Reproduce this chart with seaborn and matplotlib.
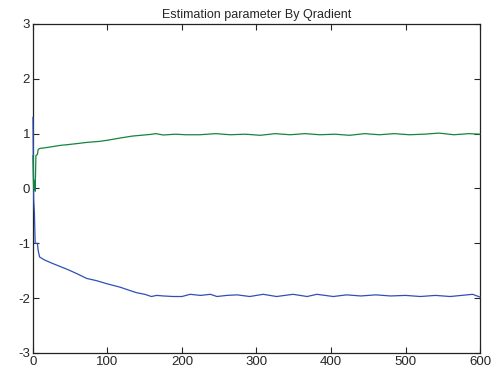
import pandas as pd
import matplotlib
matplotlib.use("Agg")
import matplotlib.pyplot as plt
import seaborn as sns

# Values
blue_t = [0, 1, 2, 3, 6, 7, 9, 15, 25, 36, 47, 60, 72, 85, 100, 117, 130, 139,
          150, 159, 166, 175, 188, 200, 211, 225, 238, 247, 260, 274, 291, 309,
          327, 349, 368, 381, 403, 421, 440, 460, 480, 500, 520, 540, 560, 575,
          590, 600]
blue_y = [1.3, -0.2, -0.45, -1.0, -1.0, -1.13, -1.25, -1.30, -1.36, -1.42, -1.48,
          -1.56, -1.64, -1.68, -1.74, -1.80, -1.86, -1.90, -1.93, -1.97, -1.95,
          -1.96, -1.97, -1.97, -1.93, -1.95, -1.93, -1.97, -1.95, -1.94, -1.97,
          -1.93, -1.97, -1.93, -1.97, -1.93, -1.97, -1.94, -1.96, -1.94, -1.96,
          -1.95, -1.97, -1.95, -1.97, -1.95, -1.93, -1.98]

green_t = [0, 1, 2, 3, 4, 6, 7, 9, 15, 25, 36, 47, 60, 72, 90, 100, 117, 133,
           145, 157, 165, 175, 191, 205, 224, 245, 265, 285, 305, 325, 345, 365,
           385, 405, 425, 445, 465, 485, 505, 525, 545, 565, 585, 600]
green_y = [0.6, 0.0, 0.15, -0.05, 0.6, 0.62, 0.71, 0.73, 0.74, 0.76, 0.785, 0.80,
           0.82, 0.84, 0.86, 0.88, 0.92, 0.955, 0.97, 0.985, 1.0, 0.975, 0.99,
           0.98, 0.98, 1.0, 0.98, 0.99, 0.97, 1.0, 0.98, 1.0, 0.98, 0.99, 0.97,
           1.0, 0.98, 1.0, 0.98, 0.99, 1.01, 0.98, 1.0, 0.99]

blue_df = pd.DataFrame({"t": blue_t, "value": blue_y})
green_df = pd.DataFrame({"t": green_t, "value": green_y})

sns.set_style("ticks")
plt.rcParams["font.family"] = ["Liberation Sans", "DejaVu Sans"]
plt.rcParams["xtick.direction"] = "in"
plt.rcParams["ytick.direction"] = "in"
plt.rcParams["axes.unicode_minus"] = False

fig = plt.figure(figsize=(4.99, 3.77), dpi=100)
ax = fig.add_axes([0.066, 0.0637, 0.896, 0.8727])

sns.lineplot(data=blue_df, x="t", y="value", color="#2f4fb8", linewidth=0.9, ax=ax)
sns.lineplot(data=green_df, x="t", y="value", color="#148440", linewidth=0.9, ax=ax)
for line in ax.get_lines():
    line.set_clip_on(False)
    line.set_zorder(3)

ax.set_xlim(0, 600)
ax.set_ylim(-3, 3)
ax.set_xticks(range(0, 601, 100))
ax.set_yticks(range(-3, 4))
ax.tick_params(labelsize=9.5, length=4, width=0.8, top=True, right=True, pad=2)
for s in ax.spines.values():
    s.set_linewidth(0.9)
    s.set_color("#222222")
    s.set_zorder(1)
ax.set_xlabel("")
ax.set_ylabel("")
ax.set_title("Estimation parameter By Qradient", fontsize=9, pad=4)

plt.savefig("out.png", dpi=100)
